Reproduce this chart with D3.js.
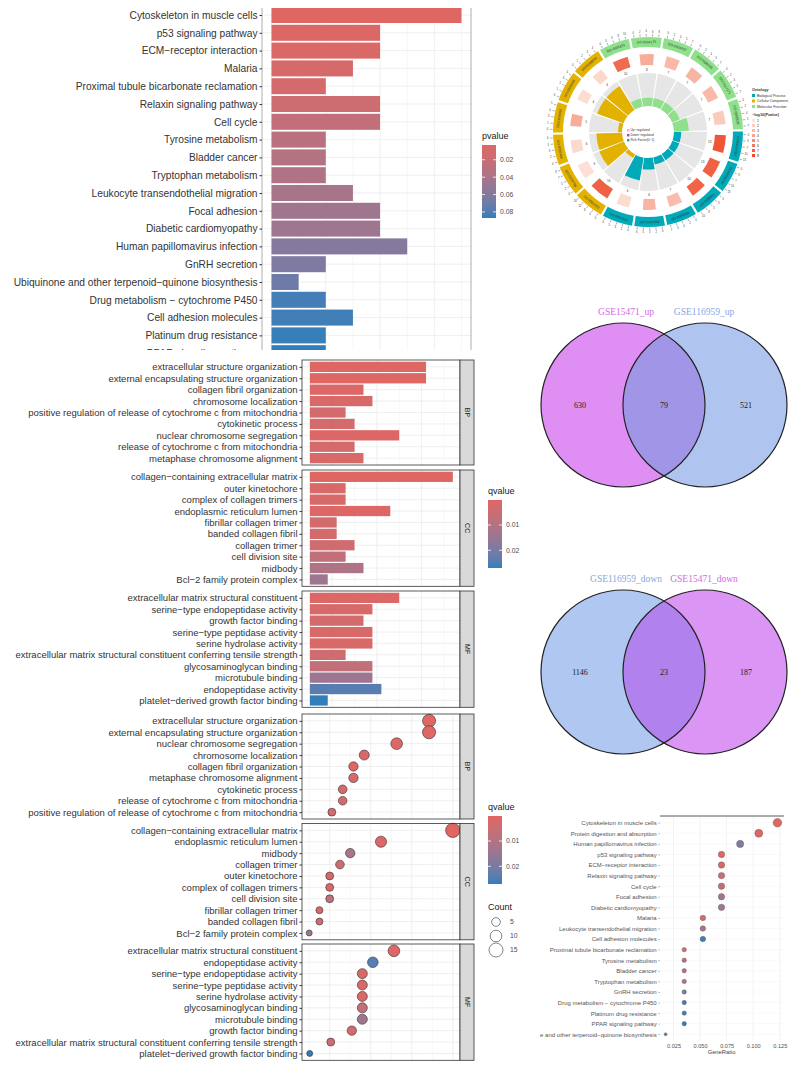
<!DOCTYPE html>
<html>
<head>
<meta charset="utf-8">
<script src="https://cdn.jsdelivr.net/npm/d3@7"></script>
<style>
  body { margin: 0; background: #fff; }
  svg { display: block; }
</style>
</head>
<body>
<svg id="chart" width="800" height="1067"></svg>
<script>
// ---- data: KEGG bar chart (top left) ----
const keggTerms = ["Cytoskeleton in muscle cells", "p53 signaling pathway", "ECM\u2212receptor interaction", "Malaria",
  "Proximal tubule bicarbonate reclamation", "Relaxin signaling pathway", "Cell cycle", "Tyrosine metabolism",
  "Bladder cancer", "Tryptophan metabolism", "Leukocyte transendothelial migration", "Focal adhesion",
  "Diabetic cardiomyopathy", "Human papillomavirus infection", "GnRH secretion",
  "Ubiquinone and other terpenoid\u2212quinone biosynthesis", "Drug metabolism \u2212 cytochrome P450",
  "Cell adhesion molecules", "Platinum drug resistance", "PPAR signaling pathway"];
const keggCount = [7, 4, 4, 3, 2, 4, 4, 2, 2, 2, 3, 4, 4, 5, 2, 1, 2, 3, 2, 2];
const keggP = [0.003, 0.006, 0.007, 0.010, 0.012, 0.017, 0.024, 0.030, 0.034, 0.036, 0.041, 0.045, 0.046,
  0.060, 0.063, 0.070, 0.083, 0.084, 0.086, 0.087];
const pTicks = [0.02, 0.04, 0.06, 0.08];

// ---- data: GO bar chart (middle left) ----
const barBP = ["extracellular structure organization", "external encapsulating structure organization",
  "collagen fibril organization", "chromosome localization",
  "positive regulation of release of cytochrome c from mitochondria", "cytokinetic process",
  "nuclear chromosome segregation", "release of cytochrome c from mitochondria", "metaphase chromosome alignment"];
const barBPCount = [13, 13, 6, 7, 4, 5, 10, 5, 6];
const barBPQ = [0.0005, 0.0005, 0.001, 0.002, 0.003, 0.003, 0.001, 0.003, 0.002];
const barCC = ["collagen\u2212containing extracellular matrix", "outer kinetochore", "complex of collagen trimers",
  "endoplasmic reticulum lumen", "fibrillar collagen trimer", "banded collagen fibril", "collagen trimer",
  "cell division site", "midbody", "Bcl\u22122 family protein complex"];
const barCCCount = [16, 4, 4, 9, 3, 3, 5, 4, 6, 2];
const barCCQ = [0.0001, 0.002, 0.002, 0.001, 0.003, 0.003, 0.004, 0.007, 0.011, 0.014];
const barMF = ["extracellular matrix structural constituent", "serine\u2212type endopeptidase activity",
  "growth factor binding", "serine\u2212type peptidase activity", "serine hydrolase activity",
  "extracellular matrix structural constituent conferring tensile strength", "glycosaminoglycan binding",
  "microtubule binding", "endopeptidase activity", "platelet\u2212derived growth factor binding"];
const barMFCount = [10, 7, 6, 7, 7, 4, 7, 7, 8, 2];
const barMFQ = [0.001, 0.002, 0.003, 0.002, 0.002, 0.004, 0.007, 0.014, 0.024, 0.027];
const qTicks = [0.01, 0.02];

// ---- data: GO dot plot (bottom left) ----
const dotBP = ["extracellular structure organization", "external encapsulating structure organization",
  "nuclear chromosome segregation", "chromosome localization", "collagen fibril organization",
  "metaphase chromosome alignment", "cytokinetic process", "release of cytochrome c from mitochondria",
  "positive regulation of release of cytochrome c from mitochondria"];
const dotBPRatio = ["13/76", "13/76", "10/76", "7/76", "6/76", "6/76", "5/76", "5/76", "4/76"];
const dotBPCount = [13, 13, 10, 7, 6, 6, 5, 5, 4];
const dotBPQ = [0.0005, 0.0005, 0.001, 0.002, 0.001, 0.002, 0.003, 0.003, 0.003];
const dotCC = ["collagen\u2212containing extracellular matrix", "endoplasmic reticulum lumen", "midbody",
  "collagen trimer", "outer kinetochore", "complex of collagen trimers", "cell division site",
  "fibrillar collagen trimer", "banded collagen fibril", "Bcl\u22122 family protein complex"];
const dotCCRatio = ["16/80", "9/80", "6/80", "5/80", "4/80", "4/80", "4/80", "3/80", "3/80", "2/80"];
const dotCCCount = [16, 9, 6, 5, 4, 4, 4, 3, 3, 2];
const dotCCQ = [0.0001, 0.001, 0.012, 0.004, 0.002, 0.002, 0.007, 0.003, 0.003, 0.015];
const dotMF = ["extracellular matrix structural constituent", "endopeptidase activity",
  "serine\u2212type endopeptidase activity", "serine\u2212type peptidase activity", "serine hydrolase activity",
  "glycosaminoglycan binding", "microtubule binding", "growth factor binding",
  "extracellular matrix structural constituent conferring tensile strength", "platelet\u2212derived growth factor binding"];
const dotMFRatio = ["10/78", "8/78", "7/78", "7/78", "7/78", "7/78", "7/78", "6/78", "4/78", "2/78"];
const dotMFCount = [10, 8, 7, 7, 7, 7, 7, 6, 4, 2];
const dotMFQ = [0.001, 0.024, 0.002, 0.002, 0.002, 0.007, 0.014, 0.003, 0.004, 0.027];
const countTicks = [5, 10, 15];

// ---- data: KEGG dot plot (bottom right) ----
const dotKegg = ["Cytoskeleton in muscle cells", "Protein digestion and absorption", "Human papillomavirus infection",
  "p53 signaling pathway", "ECM\u2212receptor interaction", "Relaxin signaling pathway", "Cell cycle",
  "Focal adhesion", "Diabetic cardiomyopathy", "Malaria", "Leukocyte transendothelial migration",
  "Cell adhesion molecules", "Proximal tubule bicarbonate reclamation", "Tyrosine metabolism", "Bladder cancer",
  "Tryptophan metabolism", "GnRH secretion", "Drug metabolism \u2212 cytochrome P450", "Platinum drug resistance",
  "PPAR signaling pathway", "Ubiquinone and other terpenoid\u2212quinone biosynthesis"];
const dotKeggRatio = ["7/57", "6/57", "5/57", "4/57", "4/57", "4/57", "4/57", "4/57", "4/57", "3/57", "3/57",
  "3/57", "2/57", "2/57", "2/57", "2/57", "2/57", "2/57", "2/57", "2/57", "1/57"];
const dotKeggCount = [7, 6, 5, 4, 4, 4, 4, 4, 4, 3, 3, 3, 2, 2, 2, 2, 2, 2, 2, 2, 1];
const dotKeggP = [0.003, 0.005, 0.060, 0.006, 0.007, 0.017, 0.024, 0.045, 0.046, 0.010, 0.041, 0.084,
  0.012, 0.030, 0.034, 0.036, 0.063, 0.083, 0.086, 0.087, 0.070];
const keggRatioTicks = [0.025, 0.050, 0.075, 0.100, 0.125];

// ---- data: Venn diagrams ----
const vennUpSets = ["GSE15471_up", "GSE116959_up"];
const vennUpCounts = [630, 79, 521];
const vennDownSets = ["GSE116959_down", "GSE15471_down"];
const vennDownCounts = [1146, 23, 187];

// ---- data: GO circos (top right) ----
const circosIds = ["GO:0005201", "GO:0004175", "GO:0004252", "GO:0008236", "GO:0017171", "GO:0005539",
  "GO:0043062", "GO:0045229", "GO:0098813", "GO:0050000", "GO:0030199", "GO:0051310",
  "GO:0062023", "GO:0005788", "GO:0030496", "GO:0005581", "GO:0000940", "GO:0098644"];
const circosOnt = ["MF", "MF", "MF", "MF", "MF", "MF", "BP", "BP", "BP", "BP", "BP", "BP",
  "CC", "CC", "CC", "CC", "CC", "CC"];
const circosRich = [0.25, 0.25, 0.25, 0.25, 0.25, 0.45, 0.22, 0.22, 0.22, 0.22, 0.35, 0.7,
  0.12, 0.8, 0.78, 0.12, 0.85, 0.85];
const circosLogP = [6.5, 3.5, 3.0, 3.2, 3.0, 2.2, 7.5, 7.0, 6.8, 2.8, 3.2, 1.4,
  7.0, 1.2, 1.5, 3.5, 1.3, 1.6];
const circosCount = [10, 8, 7, 7, 7, 7, 13, 13, 10, 7, 6, 6, 16, 9, 6, 5, 4, 4];
const ontNames = ["Biological Process", "Cellular Component", "Molecular Function"];
const logPTicks = [1, 2, 3, 4, 5, 6, 7, 8];

const svg = d3.select("#chart");
const defs = svg.append("defs");
const sans = "'Liberation Sans', Arial, Helvetica, sans-serif";
const serif = "'Liberation Serif', 'Times New Roman', serif";
const lowCol = "#e06663", highCol = "#327eba";
const gridCol = "#ebebeb";
const txtCol = "#4d4d4d";

function ratio(s) { const p = s.split("/"); return +p[0] / +p[1]; }

function colourScale(vals) {
  return d3.scaleLinear().domain(d3.extent(vals)).range([lowCol, highCol]).interpolate(d3.interpolateLab);
}

function gradientLegend(id, x, y, h, scale, ticks, title) {
  const grad = defs.append("linearGradient").attr("id", id)
    .attr("x1", 0).attr("y1", 0).attr("x2", 0).attr("y2", 1);
  const [d0, d1] = scale.domain();
  d3.range(0, 1.001, 0.1).forEach(t => grad.append("stop").attr("offset", t).attr("stop-color", scale(d0 + t * (d1 - d0))));
  const ly = d3.scaleLinear().domain([d0, d1]).range([y, y + h]);
  const g = svg.append("g").attr("font-family", sans);
  g.append("text").attr("x", x).attr("y", y - 6).attr("font-size", 9).attr("fill", "#1a1a1a").text(title);
  g.append("rect").attr("x", x).attr("y", y).attr("width", 14).attr("height", h).attr("fill", `url(#${id})`);
  ticks.forEach(t => {
    g.append("line").attr("x1", x).attr("x2", x + 3).attr("y1", ly(t)).attr("y2", ly(t)).attr("stroke", "#fff").attr("stroke-width", 0.8);
    g.append("line").attr("x1", x + 11).attr("x2", x + 14).attr("y1", ly(t)).attr("y2", ly(t)).attr("stroke", "#fff").attr("stroke-width", 0.8);
    g.append("text").attr("x", x + 18).attr("y", ly(t)).attr("dy", "0.35em").attr("font-size", 6.8).attr("fill", txtCol)
      .text(d3.format(".2f")(t));
  });
}

// ================= panel A: KEGG barplot =================
{
  defs.append("clipPath").attr("id", "clipA").append("rect").attr("x", 0).attr("y", 8).attr("width", 800).attr("height", 342);
  const g = svg.append("g").attr("clip-path", "url(#clipA)").attr("font-family", sans);
  const x = d3.scaleLinear().domain([-0.35, 7.35]).range([262, 471]);
  const y = d3.scalePoint().domain(keggTerms).range([6.1, 6.1 + 17.8 * keggTerms.length]).padding(0.5);
  const col = colourScale(keggP);
  const bh = y.step() * 0.9;
  d3.range(0, 8).forEach(v => g.append("line").attr("x1", x(v)).attr("x2", x(v)).attr("y1", 0).attr("y2", 400)
    .attr("stroke", gridCol).attr("stroke-width", v % 2 ? 0.4 : 0.8));
  keggTerms.forEach(t => g.append("line").attr("x1", 262).attr("x2", 471).attr("y1", y(t)).attr("y2", y(t))
    .attr("stroke", gridCol).attr("stroke-width", 0.8));
  g.selectAll("rect.bar").data(keggTerms).join("rect").attr("class", "bar")
    .attr("x", x(0)).attr("y", d => y(d) - bh / 2)
    .attr("width", (d, i) => x(keggCount[i]) - x(0)).attr("height", bh)
    .attr("fill", (d, i) => col(keggP[i]));
  g.append("line").attr("x1", 262).attr("x2", 262).attr("y1", 0).attr("y2", 400).attr("stroke", "#999").attr("stroke-width", 0.8);
  g.append("line").attr("x1", 471).attr("x2", 471).attr("y1", 0).attr("y2", 400).attr("stroke", "#999").attr("stroke-width", 0.8);
  const ax = g.append("g").attr("transform", "translate(262,0)").call(d3.axisLeft(y).tickSize(2.5).tickPadding(2));
  ax.select(".domain").remove();
  ax.selectAll("text").attr("font-size", 10.2).attr("fill", "#333").attr("font-family", sans);
  ax.selectAll("line").attr("stroke", "#333");
  gradientLegend("gradA", 482, 145, 73, col, pTicks, "pvalue");
}

// ================= shared facet helper =================
function facetPanel(facets, x, xGrid, drawMarks) {
  facets.forEach(f => {
    const g = svg.append("g").attr("font-family", sans);
    const y = d3.scalePoint().domain(f.terms).range([f.top, f.bottom]).padding(0.6);
    g.append("rect").attr("x", 302).attr("y", f.top).attr("width", 158).attr("height", f.bottom - f.top).attr("fill", "#fff");
    xGrid.forEach((v, i) => g.append("line").attr("x1", x(v)).attr("x2", x(v)).attr("y1", f.top).attr("y2", f.bottom)
      .attr("stroke", gridCol).attr("stroke-width", i % 2 ? 0.8 : 0.4));
    f.terms.forEach(t => g.append("line").attr("x1", 302).attr("x2", 460).attr("y1", y(t)).attr("y2", y(t))
      .attr("stroke", gridCol).attr("stroke-width", 0.8));
    drawMarks(g, f, y);
    g.append("rect").attr("x", 302).attr("y", f.top).attr("width", 158).attr("height", f.bottom - f.top)
      .attr("fill", "none").attr("stroke", "#333").attr("stroke-width", 0.8);
    g.append("rect").attr("x", 460).attr("y", f.top).attr("width", 14).attr("height", f.bottom - f.top)
      .attr("fill", "#d9d9d9").attr("stroke", "#333").attr("stroke-width", 0.8);
    const cy = (f.top + f.bottom) / 2;
    g.append("text").attr("transform", `translate(467,${cy}) rotate(90)`).attr("text-anchor", "middle")
      .attr("dy", "0.35em").attr("font-size", 7).attr("fill", "#1a1a1a").text(f.name);
    const ax = g.append("g").attr("transform", "translate(302,0)").call(d3.axisLeft(y).tickSize(2.5).tickPadding(2));
    ax.select(".domain").remove();
    ax.selectAll("text").attr("font-size", 9.5).attr("fill", "#333").attr("font-family", sans);
    ax.selectAll("line").attr("stroke", "#333");
  });
}

// ================= panel B: GO barplot =================
{
  const x = d3.scaleLinear().domain([-0.88, 16.8]).range([302, 460]);
  const col = colourScale([...barBPQ, ...barCCQ, ...barMFQ]);
  const facets = [
    { name: "BP", terms: barBP, vals: barBPCount, q: barBPQ, top: 360, bottom: 465 },
    { name: "CC", terms: barCC, vals: barCCCount, q: barCCQ, top: 470, bottom: 586.3 },
    { name: "MF", terms: barMF, vals: barMFCount, q: barMFQ, top: 591, bottom: 707.3 }
  ];
  facetPanel(facets, x, [0, 2.5, 5, 7.5, 10, 12.5, 15], (g, f, y) => {
    const bh = y.step() * 0.9;
    g.selectAll("rect.bar").data(f.terms).join("rect").attr("class", "bar")
      .attr("x", x(0)).attr("y", d => y(d) - bh / 2)
      .attr("width", (d, i) => x(f.vals[i]) - x(0)).attr("height", bh)
      .attr("fill", (d, i) => col(f.q[i]));
  });
  gradientLegend("gradB", 488, 500, 68, col, qTicks, "qvalue");
}

// ================= panel C: GO dotplot =================
{
  const x = d3.scaleLinear().domain([0.01625, 0.20875]).range([302, 460]);
  const col = colourScale([...dotBPQ, ...dotCCQ, ...dotMFQ]);
  const size = d3.scaleSqrt().domain([2, 16]).range([3, 7.2]);
  const facets = [
    { name: "BP", terms: dotBP, ratio: dotBPRatio, count: dotBPCount, q: dotBPQ, top: 714, bottom: 819 },
    { name: "CC", terms: dotCC, ratio: dotCCRatio, count: dotCCCount, q: dotCCQ, top: 823.5, bottom: 939.8 },
    { name: "MF", terms: dotMF, ratio: dotMFRatio, count: dotMFCount, q: dotMFQ, top: 944, bottom: 1060.3 }
  ];
  facetPanel(facets, x, [0.025, 0.05, 0.075, 0.1, 0.125, 0.15, 0.175, 0.2], (g, f, y) => {
    g.selectAll("circle.dot").data(f.terms).join("circle").attr("class", "dot")
      .attr("cx", (d, i) => x(ratio(f.ratio[i]))).attr("cy", d => y(d))
      .attr("r", (d, i) => size(f.count[i]))
      .attr("fill", (d, i) => col(f.q[i])).attr("stroke", "#333").attr("stroke-width", 0.6);
  });
  gradientLegend("gradC", 488, 816, 68, col, qTicks, "qvalue");
  const lg = svg.append("g").attr("font-family", sans);
  lg.append("text").attr("x", 488).attr("y", 910).attr("font-size", 9).attr("fill", "#1a1a1a").text("Count");
  countTicks.forEach((c, i) => {
    const cy = 922 + i * 14;
    lg.append("circle").attr("cx", 496).attr("cy", cy).attr("r", size(c)).attr("fill", "#fff").attr("stroke", "#333").attr("stroke-width", 0.6);
    lg.append("text").attr("x", 510).attr("y", cy).attr("dy", "0.35em").attr("font-size", 6.8).attr("fill", txtCol).text(c);
  });
}

// ================= panel D: KEGG dotplot =================
{
  defs.append("clipPath").attr("id", "clipD").append("rect").attr("x", 540).attr("y", 800).attr("width", 260).attr("height", 267);
  const g = svg.append("g").attr("clip-path", "url(#clipD)").attr("font-family", sans);
  const x = d3.scaleLinear().domain([0.01228, 0.12807]).range([660, 783]);
  const y = d3.scalePoint().domain(dotKegg).range([816.4, 1040.6]).padding(0.6);
  const col = colourScale(dotKeggP);
  const size = d3.scaleSqrt().domain([1, 7]).range([1.5, 4.3]);
  keggRatioTicks.forEach(v => g.append("line").attr("x1", x(v)).attr("x2", x(v)).attr("y1", 816.4).attr("y2", 1040.6)
    .attr("stroke", gridCol).attr("stroke-width", 0.6));
  dotKegg.forEach(t => g.append("line").attr("x1", 660).attr("x2", 783).attr("y1", y(t)).attr("y2", y(t))
    .attr("stroke", "#f3f3f3").attr("stroke-width", 0.5));
  g.append("line").attr("x1", 660).attr("x2", 784).attr("y1", 816).attr("y2", 816).attr("stroke", "#444").attr("stroke-width", 0.9);
  g.selectAll("circle.dot").data(dotKegg).join("circle").attr("class", "dot")
    .attr("cx", (d, i) => x(ratio(dotKeggRatio[i]))).attr("cy", d => y(d))
    .attr("r", (d, i) => size(dotKeggCount[i]))
    .attr("fill", (d, i) => col(dotKeggP[i])).attr("stroke", "#555").attr("stroke-width", 0.4);
  const ay = g.append("g").attr("transform", "translate(660,0)").call(d3.axisLeft(y).tickSize(1.8).tickPadding(1.5));
  ay.select(".domain").remove();
  ay.selectAll("text").attr("font-size", 6).attr("fill", "#555").attr("font-family", sans);
  ay.selectAll("line").attr("stroke", "#777").attr("stroke-width", 0.5);
  const axb = g.append("g").attr("transform", "translate(0,1040.6)")
    .call(d3.axisBottom(x).tickValues(keggRatioTicks).tickFormat(d3.format(".3f")).tickSize(0).tickPadding(3));
  axb.select(".domain").remove();
  axb.selectAll("text").attr("font-size", 5.6).attr("fill", "#555").attr("font-family", sans);
  g.append("text").attr("x", 721.5).attr("y", 1053.5).attr("text-anchor", "middle").attr("font-size", 5.8)
    .attr("fill", "#444").text("GeneRatio");
}

// ================= Venn diagrams =================
function venn(cyv, sets, counts, fills, labelCols) {
  const g = svg.append("g");
  const r = 82, xl = 623, xr = 705;
  const id = "vclip" + cyv;
  defs.append("clipPath").attr("id", id).append("circle").attr("cx", xl).attr("cy", cyv).attr("r", r);
  g.append("circle").attr("cx", xl).attr("cy", cyv).attr("r", r).attr("fill", fills[0]);
  g.append("circle").attr("cx", xr).attr("cy", cyv).attr("r", r).attr("fill", fills[1]);
  g.append("circle").attr("cx", xr).attr("cy", cyv).attr("r", r).attr("fill", fills[2]).attr("clip-path", `url(#${id})`);
  [xl, xr].forEach(cx => g.append("circle").attr("cx", cx).attr("cy", cyv).attr("r", r)
    .attr("fill", "none").attr("stroke", "#222").attr("stroke-width", 1.2));
  const lx = [626, 704];
  sets.forEach((s, i) => g.append("text").attr("x", lx[i]).attr("y", cyv - 90).attr("text-anchor", "middle")
    .attr("font-family", serif).attr("font-size", 9.5).attr("fill", labelCols[i]).text(s));
  const nx = [580, 664, 746];
  counts.forEach((c, i) => g.append("text").attr("x", nx[i]).attr("y", cyv).attr("dy", "0.35em").attr("text-anchor", "middle")
    .attr("font-family", serif).attr("font-size", 8).attr("fill", "#222").text(c));
}
venn(405, vennUpSets, vennUpCounts, ["#df8ff3", "#afc5ef", "#a095e6"], ["#d06be0", "#88a7dc"]);
venn(672, vennDownSets, vennDownCounts, ["#afc7f1", "#da95f5", "#b182ee"], ["#88a7dc", "#d06be0"]);

// ================= GO circos =================
{
  const cx = 648, cy = 132;
  const g = svg.append("g").attr("transform", `translate(${cx},${cy})`).attr("font-family", sans);
  const ontColor = { BP: "#00aab8", CC: "#e3b200", MF: "#8ee08a" };
  const rad = Math.PI / 180;
  const ang = d3.scaleBand().domain(circosIds).range([-31 * rad, 329 * rad]).paddingInner(0.07).paddingOuter(0.035);
  const red = d3.scaleLinear().domain([1, 8]).range(["#fde4da", "#ee4a2a"]);
  const boxW = d3.scaleLinear().domain([2, 16]).range([0.4, 0.8]);
  const arc = d3.arc();
  const polar = (r, a) => [r * Math.sin(a), -r * Math.cos(a)];
  circosIds.forEach((id, i) => {
    const a0 = ang(id), a1 = a0 + ang.bandwidth(), am = (a0 + a1) / 2;
    const c = ontColor[circosOnt[i]];
    g.append("path").attr("d", arc({ innerRadius: 26, outerRadius: 59, startAngle: a0, endAngle: a1 })).attr("fill", "#e6e6e6");
    g.append("path").attr("d", arc({ innerRadius: 26, outerRadius: 26 + 33 * circosRich[i], startAngle: a0, endAngle: a1 })).attr("fill", c);
    const half = ang.bandwidth() * boxW(circosCount[i]) / 2;
    g.append("path").attr("d", arc({ innerRadius: 67, outerRadius: 78, startAngle: am - half, endAngle: am + half }))
      .attr("fill", red(circosLogP[i]));
    g.append("path").attr("d", arc({ innerRadius: 85, outerRadius: 95, startAngle: a0, endAngle: a1 })).attr("fill", c);
    const deg = am / rad;
    const flip = deg > 90 && deg < 270;
    const [tx, ty] = polar(90, am);
    g.append("text").attr("transform", `translate(${tx},${ty}) rotate(${flip ? deg + 180 : deg})`)
      .attr("text-anchor", "middle").attr("dy", "0.35em").attr("font-size", 3.4).attr("fill", "#333").text(id);
    const [nx, ny] = polar(62.5, am);
    g.append("text").attr("x", nx).attr("y", ny).attr("dy", "0.35em").attr("text-anchor", "middle")
      .attr("font-size", 3).attr("fill", "#333").text(circosCount[i]);
    d3.range(5).forEach(k => {
      const a = a0 + (k + 0.5) * ang.bandwidth() / 5;
      const [x1, y1] = polar(95.5, a), [x2, y2] = polar(98, a), [x3, y3] = polar(100.5, a);
      g.append("line").attr("x1", x1).attr("y1", y1).attr("x2", x2).attr("y2", y2).attr("stroke", "#333").attr("stroke-width", 0.4);
      g.append("text").attr("x", x3).attr("y", y3).attr("dy", "0.35em").attr("text-anchor", "middle")
        .attr("font-size", 2.6).attr("fill", "#333").text(Math.round(k * circosCount[i] / 4));
    });
  });
  // centre legend
  const centre = [["#f2a7d8", "Up\u2212regulated"], ["#a64ca6", "Down\u2212regulated"], ["#00afbb", "Rich Factor(0\u22121)"]];
  centre.forEach((d, i) => {
    g.append("rect").attr("x", -21).attr("y", -3 + i * 5).attr("width", 2.4).attr("height", 2.4).attr("fill", d[0]);
    g.append("text").attr("x", -17.5).attr("y", -1.8 + i * 5).attr("dy", "0.35em").attr("font-size", 3.2).attr("fill", "#333").text(d[1]);
  });
  // right legend
  const lg = svg.append("g").attr("font-family", sans);
  lg.append("text").attr("x", 752).attr("y", 91).attr("font-size", 3.8).attr("font-weight", "bold").attr("fill", "#333").text("Ontology");
  ontNames.forEach((n, i) => {
    lg.append("rect").attr("x", 752).attr("y", 94 + i * 5.5).attr("width", 3).attr("height", 3).attr("fill", [ontColor.BP, ontColor.CC, ontColor.MF][i]);
    lg.append("text").attr("x", 757).attr("y", 95.5 + i * 5.5).attr("dy", "0.35em").attr("font-size", 3.5).attr("fill", "#333").text(n);
  });
  lg.append("text").attr("x", 752).attr("y", 116).attr("font-size", 3.8).attr("font-weight", "bold").attr("fill", "#333").text("\u2212log10(Pvalue)");
  logPTicks.forEach((v, i) => {
    lg.append("rect").attr("x", 752).attr("y", 119 + i * 5).attr("width", 3).attr("height", 3).attr("fill", red(v));
    lg.append("text").attr("x", 757).attr("y", 120.5 + i * 5).attr("dy", "0.35em").attr("font-size", 3.5).attr("fill", "#333").text(v);
  });
}
</script>
</body>
</html>
